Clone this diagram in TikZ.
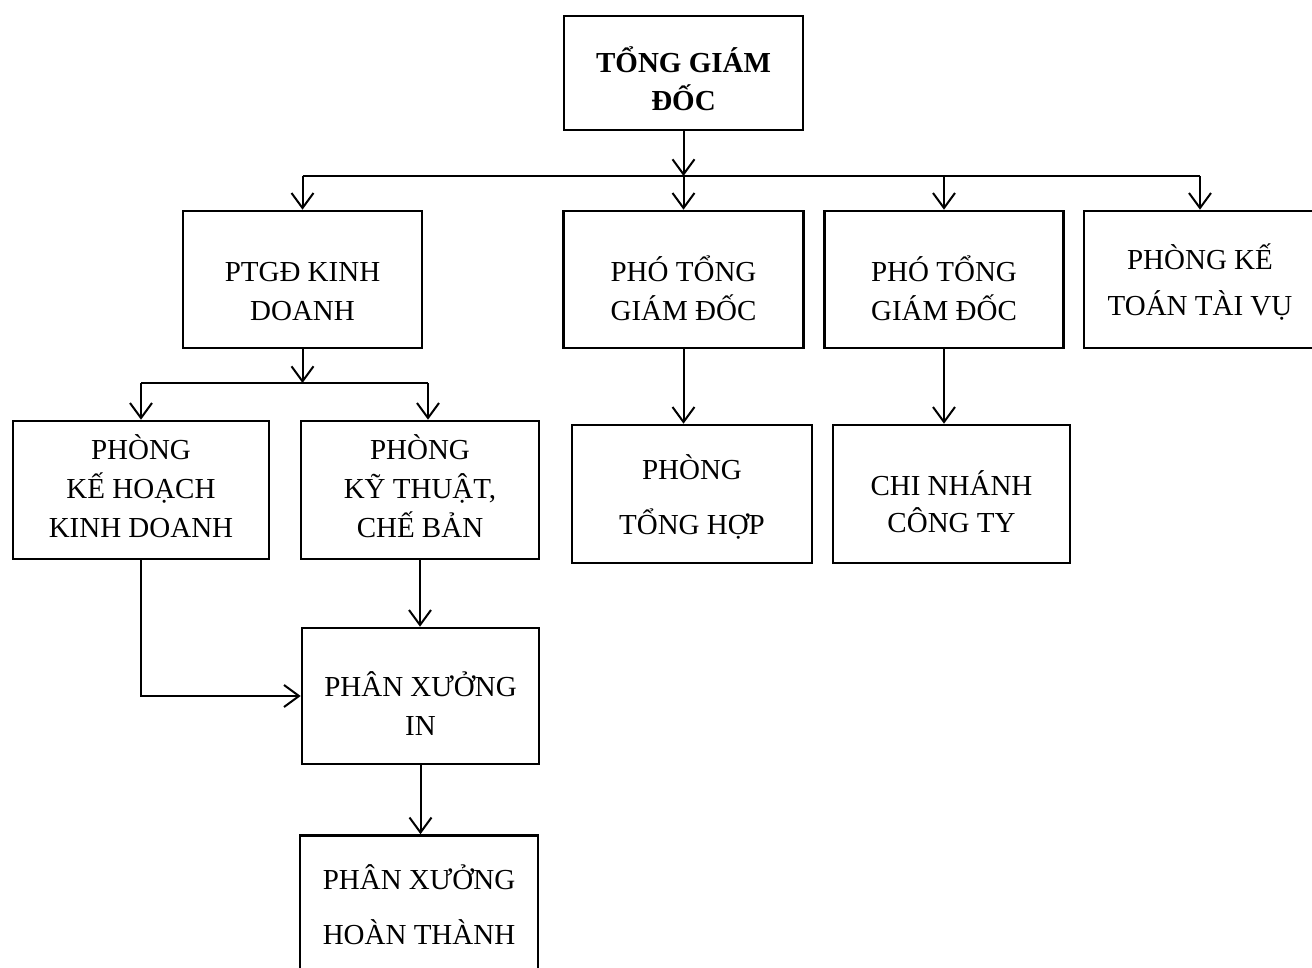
\documentclass[tikz,border=0pt]{standalone}
\usepackage{fontspec}
\setmainfont{Liberation Serif}
\usetikzlibrary{arrows.meta, positioning, calc}

\begin{document}
\begin{tikzpicture}[
      x=1pt, y=-1pt,
      box/.style={rectangle, draw, line width=2.6pt, minimum width=238pt,
        minimum height=137pt, inner sep=0pt, align=center,
        font=\fontsize{29}{39}\selectfont},
      lastline/.style={text depth=0pt, text height=#1},
      conn/.style={draw, line width=2pt},
      >={Straight Barb[length=15pt, width=22pt, line width=2pt]}
    ]
    \useasboundingbox (0,0) rectangle (1312,967);
    \node [box, minimum width=239pt, minimum height=114pt, lastline=74pt,
      font=\bfseries\fontsize{29}{38}\selectfont] (tgd) at (683.5,73) {TỔNG GIÁM\\ĐỐC};
    \node [box, minimum width=239pt, lastline=81pt] (ptgd) at (302.5,279.5) {PTGĐ KINH\\DOANH};
    \node [box, minimum width=240pt, lastline=81pt] (pho1) at (683.5,279.5) {PHÓ TỔNG\\GIÁM ĐỐC};
    \node [box, minimum width=239pt, lastline=81pt] (pho2) at (944,279.5) {PHÓ TỔNG\\GIÁM ĐỐC};
    \node [box, minimum width=232pt, lastline=71pt] (pketoan) at (1200,279.5)
      {PHÒNG KẾ\\[7pt]TOÁN TÀI VỤ};
    \node [box, minimum width=256pt, minimum height=138pt, lastline=94pt] (pkhkd) at (141,490)
      {PHÒNG\\ KẾ HOẠCH\\KINH DOANH};
    \node [box, minimum height=138pt, lastline=94pt] (pkythuat) at (420,490)
      {PHÒNG\\ KỸ THUẬT,\\CHẾ BẢN};
    \node [box, minimum width=240pt, minimum height=138pt, lastline=80pt] (pth) at (692,494)
      {PHÒNG\\[16pt]TỔNG HỢP};
    \node [box, minimum width=237pt, minimum height=138pt, lastline=76pt] (cn) at (951.5,494)
      {CHI NHÁNH\\[-2pt]CÔNG TY};
    \node [box, minimum width=237pt, minimum height=136pt, lastline=78pt] (pxin) at (420.5,696)
      {PHÂN XƯỞNG\\IN};
    \node [box, minimum height=139pt, lastline=78pt] (pxht) at (419,905)
      {PHÂN XƯỞNG\\[16pt]HOÀN THÀNH};

    % tong giam doc -> cap duoi
    \coordinate (hub) at (683.5,176);
    \draw [conn, ->] (tgd.south) -- (hub);
    \draw [conn] (ptgd.north |- hub) -- (pketoan.north |- hub);
    \foreach \n in {ptgd, pho1, pho2, pketoan}
      \draw [conn, ->] (\n.north |- hub) -- (\n.north);

    % ptgd kinh doanh -> hai phong
    \coordinate (hubkd) at (302.5,383);
    \draw [conn, ->] (ptgd.south) -- (hubkd);
    \draw [conn] (pkhkd.north |- hubkd) -- ([xshift=8pt]pkythuat.north |- hubkd);
    \draw [conn, ->] (pkhkd.north |- hubkd) -- (pkhkd.north);
    \draw [conn, ->] ([xshift=8pt]pkythuat.north |- hubkd) -- ([xshift=8pt]pkythuat.north);

    \draw [conn, ->] (pho1.south) -- (pho1.south |- pth.north);
    \draw [conn, ->] (pho2.south) -- (pho2.south |- cn.north);
    \draw [conn, ->] (pkythuat.south) -- (pkythuat.south |- pxin.north);
    \draw [conn, ->] (pkhkd.south) |- (pxin.west);
    \draw [conn, ->] (pxin.south) -- (pxin.south |- pxht.north);
\end{tikzpicture}
\end{document}
